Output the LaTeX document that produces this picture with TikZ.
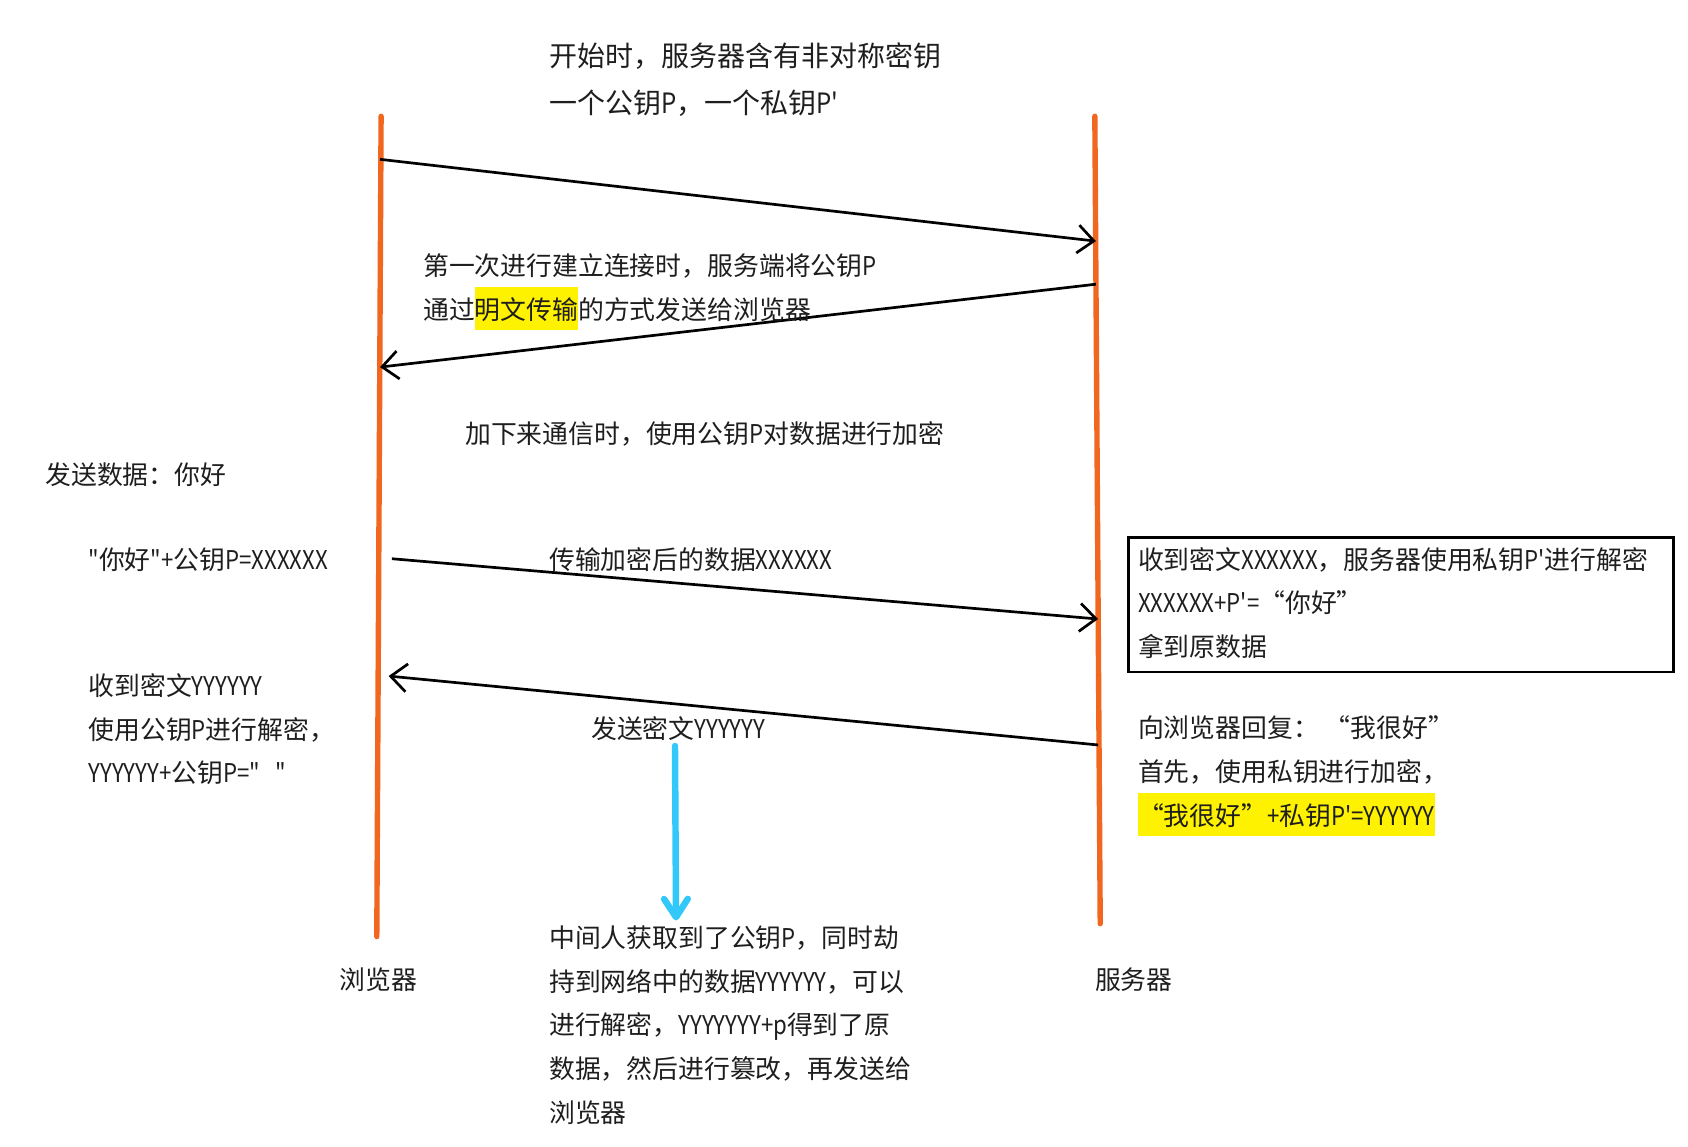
\documentclass[tikz,border=0pt]{standalone}
\usepackage{fontspec}
\setmainfont{Noto Sans CJK SC}[Ligatures=TeXOff]
\newfontfamily\latnfont{Noto Sans CJK SC}[FakeStretch=0.86, Ligatures=TeXOff]
\newcommand\latn[1]{{\latnfont #1}}
\usetikzlibrary{arrows.meta}
\definecolor{lifeorange}{RGB}{242,103,31}
\definecolor{mitmblue}{RGB}{51,200,250}
\definecolor{txtgray}{RGB}{30,30,30}
\newcommand\myhl[1]{{\setlength{\fboxsep}{0pt}\colorbox{yellow}{\rule[-10pt]{0pt}{40pt}#1}}}
\begin{document}
\begin{tikzpicture}[x=1pt,y=-1pt,
  txt/.style={anchor=base west, inner sep=0pt, font=\fontsize{24}{28}\selectfont, text=txtgray},
  bigtxt/.style={txt, font=\fontsize{26}{30}\selectfont},
  life/.style={draw=lifeorange, line width=5pt, line cap=round},
  msg/.style={draw=black, line width=2.5pt, -{Straight Barb[length=15pt,width=26pt]}},
  mitm/.style={draw=mitmblue, line width=6pt, line cap=round, -{Straight Barb[length=17pt,width=22pt,round]}},
  infobox/.style={draw=black, line width=2.5pt, inner sep=0pt}]
\useasboundingbox (0,0) rectangle (1568,1065);

% lifelines
\coordinate (bTop) at (354,108);
\coordinate (bBot) at (350,870);
\coordinate (sTop) at (1017,108);
\coordinate (sBot) at (1022,858);
\draw[life] (bTop) -- (bBot);
\draw[life] (sTop) -- (sBot);

% message end points
\coordinate (m1a) at (353,148);
\coordinate (m1b) at (1018,224);
\coordinate (m2a) at (1018,264);
\coordinate (m2b) at (353,341);
\coordinate (m3a) at (364,519);
\coordinate (m3b) at (1020,575);
\coordinate (m4a) at (1020,692);
\coordinate (m4b) at (361,628);
\coordinate (ba) at (627,693);
\coordinate (bb) at (628,855);

\draw[msg] (m1a) -- (m1b);
\draw[msg] (m2a) -- (m2b);
\draw[msg] (m3a) -- (m3b);
\draw[msg] (m4a) -- (m4b);
\draw[mitm] (ba) -- (bb);

% box
\node[infobox, minimum width=506pt, minimum height=125pt, anchor=north west] (box) at (1047,498) {};

% texts
\node[bigtxt] (t1) at (510,62) {开始时，服务器含有非对称密钥};
\node[bigtxt] (t2) at (510,105) {一个公钥\latn{P}，一个私钥\latn{P'}};
\node[txt] (t3) at (393,256) {第一次进行建立连接时，服务端将公钥\latn{P}};
\node[txt] (t4) at (393,297) {通过\myhl{明文传输}的方式发送给浏览器};
\node[txt] (t5) at (432,412) {加下来通信时，使用公钥\latn{P}对数据进行加密};
\node[txt] (t6) at (42,450) {发送数据：你好};
\node[txt] (t7) at (82,529) {\latn{"}你好\latn{"+}公钥\latn{P=XXXXXX}};
\node[txt] (t8) at (510,529) {传输加密后的数据\latn{XXXXXX}};
\node[txt] (t9) at (1057,529) {收到密文\latn{XXXXXX}，服务器使用私钥\latn{P'}进行解密};
\node[txt] (t10) at (1057,569) {\latn{XXXXXX+P'=}“你好”};
\node[txt] (t11) at (1057,610) {拿到原数据};
\node[txt] (t12) at (82,646) {收到密文\latn{YYYYYY}};
\node[txt] (t13) at (82,687) {使用公钥\latn{P}进行解密，};
\node[txt] (t14) at (82,727) {\latn{YYYYYY+}公钥\latn{P="\ \ \ "}};
\node[txt] (t15) at (549,686) {发送密文\latn{YYYYYY}};
\node[txt] (t16) at (1057,685) {向浏览器回复： “我很好”};
\node[txt] (t17) at (1057,726) {首先，使用私钥进行加密，};
\node[txt] (t18) at (1057,767) {\myhl{“我很好”\latn{+}私钥\latn{P'=YYYYYY}}};
\node[txt] (t19) at (510,880) {中间人获取到了公钥\latn{P}，同时劫};
\node[txt] (t20) at (510,921) {持到网络中的数据\latn{YYYYYY}，可以};
\node[txt] (t21) at (510,961) {进行解密，\latn{YYYYYYY+p}得到了原};
\node[txt] (t22) at (510,1002) {数据，然后进行篡改，再发送给};
\node[txt] (t23) at (510,1043) {浏览器};
\node[txt] (t24) at (315,919) {浏览器};
\node[txt] (t25) at (1017,919) {服务器};
\end{tikzpicture}
\end{document}
